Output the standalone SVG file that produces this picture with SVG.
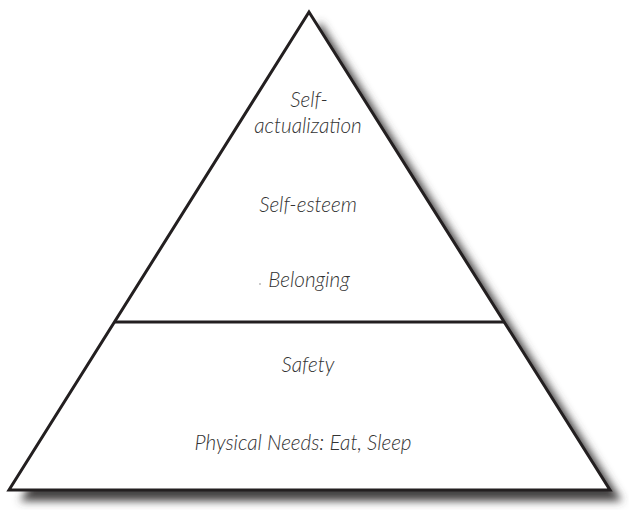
<svg xmlns="http://www.w3.org/2000/svg" width="629" height="510" viewBox="0 0 629 510">
  <style>
    .lbl { font-family: "Lato", "Open Sans", sans-serif; font-style: italic; font-weight: 300; font-size: 20.7px; fill: #333333; text-anchor: middle; }
    .edge { stroke: #231f20; stroke-width: 3; }
    .tri { fill: #ffffff; }
    .line { fill: none; }
  </style>
  <defs>
    <filter id="shadow" x="-10%" y="-10%" width="120%" height="120%">
      <feGaussianBlur stdDeviation="4.5"/>
    </filter>
  </defs>
  <rect width="629" height="510" fill="#ffffff"/>
  <g id="pyramid">
    <polygon points="320,22 20,501 622,501" fill="#444242" filter="url(#shadow)"/>
    <polygon class="edge tri" points="309,12 9,490 610,490" stroke-linejoin="miter"/>
  </g>
  <g id="connectors">
    <line class="edge line" x1="115" y1="322" x2="504" y2="322"/>
  </g>
  <g id="self-actualization">
    <text class="lbl" x="309" y="107">Self-</text>
    <text class="lbl" x="308" y="133">actualization</text>
  </g>
  <g id="self-esteem">
    <text class="lbl" x="308" y="212">Self-esteem</text>
  </g>
  <g id="belonging">
    <circle cx="260" cy="284" r="0.8" fill="#888"/>
    <text class="lbl" x="309" y="287">Belonging</text>
  </g>
  <g id="safety">
    <text class="lbl" x="308" y="372">Safety</text>
  </g>
  <g id="physical-needs">
    <text class="lbl" x="303" y="450">Physical Needs: Eat, Sleep</text>
  </g>
</svg>
